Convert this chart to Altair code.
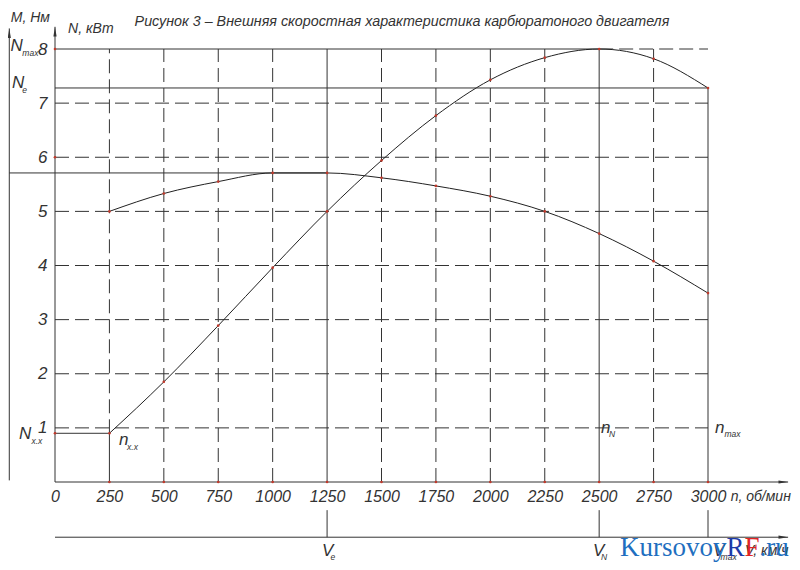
import pandas as pd
import altair as alt

# speed characteristic
n_rpm = [250, 500, 750, 1000, 1250, 1500, 1750, 2000, 2250, 2500, 2750, 3000]
power_kw = [0.9, 1.85, 2.89, 3.96, 5.0, 5.94, 6.77, 7.43, 7.84, 8.0, 7.82, 7.28]
torque_nm = [5.0, 5.33, 5.55, 5.71, 5.71, 5.62, 5.47, 5.28, 5.0, 4.59, 4.08, 3.49]

x_ticks = [0, 250, 500, 750, 1000, 1250, 1500, 1750, 2000, 2250, 2500, 2750, 3000]
y_ticks = [1, 2, 3, 4, 5, 6, 7, 8]

title_text = "Рисунок 3 – Внешняя скоростная характеристика карбюратоного двигателя"

# characteristic points
n_xx, n_e, n_N, n_max = 250, 1250, 2500, 3000
N_xx, N_max, N_e, M_max = 0.9, 8.0, 7.28, 5.71

# extents of the hand-drawn axes
n_arrow, N_arrow = 3368, 8.41
M_axis_n, M_arrow = -210, 8.38
v_axis, v_gap = -1.02, -0.52

FONT = "Liberation Sans"
INK = "#333333"

sx = alt.Scale(domain=[0, 3000], nice=False, zero=False)
sy = alt.Scale(domain=[0, 8], nice=False, zero=False)
x_axis = alt.Axis(values=x_ticks, format="d", title=None, grid=False, domain=False, ticks=False,
                  labelFont=FONT, labelFontStyle="italic", labelFontSize=16,
                  labelColor=INK, labelPadding=6, labelFlush=False, labelOverlap=False)
y_axis = alt.Axis(values=y_ticks, format="d", title=None, grid=False, domain=False, ticks=False,
                  labelFont=FONT, labelFontStyle="italic", labelFontSize=17,
                  labelColor=INK, labelPadding=8, labelOverlap=False)


def enc(**kw):
    return dict(x=alt.X("n:Q", scale=sx, axis=x_axis),
                y=alt.Y("v:Q", scale=sy, axis=y_axis), **kw)


# dashed grid
inner = [t for t in x_ticks if t not in (0, n_xx, n_e, n_N, n_max)]
grid_v = pd.DataFrame({"n": inner + [n_xx], "v": [0] * len(inner) + [N_xx],
                       "v2": [N_max] * (len(inner) + 1)})
grid_h = pd.DataFrame({"v": y_ticks, "n": [0] * 7 + [n_N], "n2": [n_max] * 8})

dash = [14, 6]
gv = alt.Chart(grid_v).mark_rule(strokeDash=dash, color=INK, strokeWidth=1).encode(
    **enc(y2="v2"))
gh = alt.Chart(grid_h).mark_rule(strokeDash=dash, color=INK, strokeWidth=1).encode(
    **enc(x2="n2"))

# solid construction lines and axes
solid = pd.DataFrame([
    {"n": 0, "n2": n_N, "v": N_max, "v2": N_max},
    {"n": 0, "n2": n_max, "v": N_e, "v2": N_e},
    {"n": M_axis_n, "n2": n_e, "v": M_max, "v2": M_max},
    {"n": 0, "n2": n_xx, "v": N_xx, "v2": N_xx},
    {"n": n_xx, "n2": n_xx, "v": 0, "v2": N_xx},
    {"n": n_e, "n2": n_e, "v": 0, "v2": N_max},
    {"n": n_N, "n2": n_N, "v": 0, "v2": N_max},
    {"n": n_max, "n2": n_max, "v": 0, "v2": N_e},
    {"n": n_e, "n2": n_e, "v": v_gap, "v2": v_axis},
    {"n": n_N, "n2": n_N, "v": v_gap, "v2": v_axis},
    {"n": n_max, "n2": n_max, "v": v_gap, "v2": v_axis},
    {"n": 0, "n2": 0, "v": 0, "v2": N_arrow},
    {"n": 0, "n2": n_arrow, "v": 0, "v2": 0},
    {"n": M_axis_n, "n2": M_axis_n, "v": 0.03, "v2": M_arrow},
    {"n": 0, "n2": n_arrow, "v": v_axis, "v2": v_axis},
])
lines = alt.Chart(solid).mark_rule(color=INK, strokeWidth=1).encode(**enc(x2="n2", y2="v2"))

up = pd.DataFrame({"n": [0, M_axis_n], "v": [N_arrow, M_arrow]})
right = pd.DataFrame({"n": [n_arrow, n_arrow], "v": [0, v_axis]})
arr_up = alt.Chart(up).mark_point(shape="M0,0L0.4,2.4L-0.4,2.4Z", filled=True, size=64,
                                  color=INK, opacity=1).encode(**enc())
arr_right = alt.Chart(right).mark_point(shape="M0,0L-2.4,-0.4L-2.4,0.4Z", filled=True, size=64,
                                        color=INK, opacity=1).encode(**enc())

# curves
curves = pd.DataFrame({"n": n_rpm * 2, "v": power_kw + torque_nm,
                       "s": ["N"] * len(n_rpm) + ["M"] * len(n_rpm)})
curve = alt.Chart(curves).mark_line(interpolate="monotone", color="#222222",
                                    strokeWidth=1).encode(**enc(detail="s:N"))
dots = alt.Chart(curves).mark_circle(size=7, color="#c0392b", opacity=1).encode(**enc())

tick_dots = pd.DataFrame({"n": x_ticks[1:] + [0] * 3, "v": [0] * 12 + [N_xx, 6, N_max]})
tdots = alt.Chart(tick_dots).mark_circle(size=7, color="#c0392b", opacity=1).encode(**enc())

# texts
big = pd.DataFrame({
    "t": ["N", "N", "N", "n", "n", "n", "V", "V", "V"],
    "n": [-205, -198, -165, 294, 2508, 3032, 1227, 2472, 3023],
    "v": [8.06, 7.37, 0.89, 0.78, 1.0, 1.0, -1.27, -1.27, -1.27],
})
sub = pd.DataFrame({
    "t": ["max", "e", "х.х", "х.х", "N", "max", "e", "N", "max"],
    "n": [-150, -150, -108, 331, 2545, 3076, 1266, 2508, 3058],
    "v": [7.92, 7.24, 0.76, 0.65, 0.88, 0.88, -1.39, -1.39, -1.39],
})
names = pd.DataFrame({
    "t": ["M, Нм", "N, кВт", "n, об/мин", "V, км/ч"],
    "n": [-203, 60, 3104, 3170],
    "v": [8.58, 8.37, -0.28, -1.27],
})
ttl = pd.DataFrame({"t": [title_text], "n": [1594], "v": [8.50]})

txt = dict(font=FONT, fontStyle="italic", color=INK, baseline="middle")
t_big = alt.Chart(big).mark_text(align="left", fontSize=17, **txt).encode(**enc(text="t:N"))
t_sub = alt.Chart(sub).mark_text(align="left", fontSize=8.5, **txt).encode(**enc(text="t:N"))
t_names = alt.Chart(names).mark_text(align="left", fontSize=14, **txt).encode(**enc(text="t:N"))
t_title = alt.Chart(ttl).mark_text(align="center", fontSize=14.3, **txt).encode(**enc(text="t:N"))

# site watermark
wm = pd.DataFrame({"t": ["Kursovoy", "R", "F", ".ru"],
                   "n": [2596, 3085, 3168, 3237],
                   "c": ["#1f6fc0", "#1c3aa8", "#e02424", "#1f6fc0"]})
wm["v"] = -1.36
t_wm = alt.Chart(wm).mark_text(align="left", baseline="alphabetic", fontSize=27,
                               font="Liberation Serif").encode(
    **enc(text="t:N", color=alt.Color("c:N", scale=None)))

chart = alt.layer(gv, gh, lines, arr_up, arr_right, curve, dots, tdots,
                  t_big, t_sub, t_names, t_title, t_wm).properties(
    width=653, height=433,
    autosize=alt.AutoSizeParams(type="none"),
    padding={"left": 47, "top": 41, "right": 84, "bottom": 80},
    background="white",
).configure_view(strokeWidth=0)

chart.save("out.html", embed_options={"renderer": "svg", "actions": False})
